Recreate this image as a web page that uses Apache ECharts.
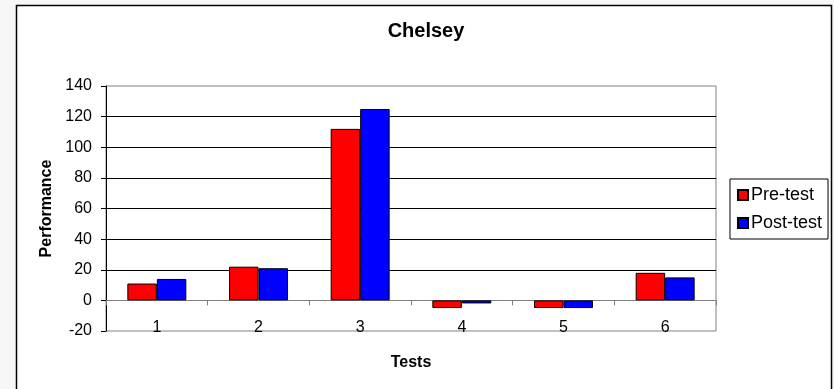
<!DOCTYPE html>
<html>
<head>
<meta charset="utf-8">
<title>Chelsey</title>
<script src="https://cdn.jsdelivr.net/npm/echarts@6/dist/echarts.min.js"></script>
<style>
  html, body { margin: 0; padding: 0; background: #f7f7f7; }
  #chart { width: 834px; height: 389px; }
</style>
</head>
<body>
<div id="chart"></div>
<script>
// Test numbers and the two score series
const tests = ['1', '2', '3', '4', '5', '6'];
const preTest = [11, 22, 112, -5, -5, 18];
const postTest = [14, 21, 125, -2, -5, 15];
// Performance axis range
const yMin = -20;
const yMax = 140;
const yStep = 20;

const FONT = 'Arial, "Liberation Sans", sans-serif';

const chart = echarts.init(document.getElementById('chart'));
chart.setOption({
  animation: false,
  backgroundColor: 'transparent',
  graphic: [{
    type: 'rect',
    z: -10,
    shape: { x: 16.5, y: 5.5, width: 815, height: 400 },
    style: { fill: '#ffffff', stroke: '#000000', lineWidth: 1.5 }
  }],
  title: {
    text: 'Chelsey',
    left: 426,
    top: 21,
    padding: 0,
    textAlign: 'center',
    textStyle: { fontFamily: FONT, fontSize: 20, fontWeight: 'bold', color: '#000' }
  },
  legend: {
    orient: 'vertical',
    left: 730,
    top: 179,
    padding: [6, 6, 6, 7],
    itemGap: 8,
    itemWidth: 10,
    itemHeight: 10,
    icon: 'rect',
    borderColor: '#000',
    borderWidth: 1,
    backgroundColor: '#fff',
    textStyle: { fontFamily: FONT, fontSize: 18, color: '#000', lineHeight: 20, padding: [0, 0, 0, -2] },
    data: ['Pre-test', 'Post-test']
  },
  grid: {
    left: 106,
    right: 118,
    top: 86,
    bottom: 58,
    outerBoundsMode: 'none',
    containLabel: false,
    show: true,
    borderColor: '#808080',
    borderWidth: 1,
    backgroundColor: '#fff'
  },
  xAxis: {
    type: 'category',
    data: tests,
    name: 'Tests',
    nameLocation: 'middle',
    nameGap: 24,
    nameTextStyle: { fontFamily: FONT, fontSize: 16, fontWeight: 'bold', color: '#000' },
    axisLine: { show: true, onZero: true, lineStyle: { color: '#808080', width: 1 } },
    axisTick: { show: true, length: 5, alignWithLabel: false, lineStyle: { color: '#808080' } },
    axisLabel: { margin: -11, fontFamily: FONT, fontSize: 16, color: '#000' },
    splitLine: { show: false }
  },
  yAxis: {
    type: 'value',
    min: yMin,
    max: yMax,
    interval: yStep,
    name: 'Performance',
    nameLocation: 'middle',
    nameRotate: 90,
    nameGap: 42,
    nameTextStyle: { fontFamily: FONT, fontSize: 16, fontWeight: 'bold', color: '#000' },
    axisLine: { show: true, lineStyle: { color: '#000', width: 1 } },
    axisTick: { show: true, length: 5, lineStyle: { color: '#000' } },
    axisLabel: { margin: 14, fontFamily: FONT, fontSize: 16, color: '#000' },
    splitLine: { show: true, showMinLine: false, showMaxLine: false, lineStyle: { color: '#000', width: 1 } }
  },
  series: [
    {
      name: 'Pre-test',
      type: 'bar',
      data: preTest,
      barGap: '0%',
      barCategoryGap: '42%',
      itemStyle: { color: '#ff0000', borderColor: '#000', borderWidth: 1 }
    },
    {
      name: 'Post-test',
      type: 'bar',
      data: postTest,
      barGap: '0%',
      barCategoryGap: '42%',
      itemStyle: { color: '#0000ff', borderColor: '#000', borderWidth: 1 }
    }
  ]
});
</script>
</body>
</html>
